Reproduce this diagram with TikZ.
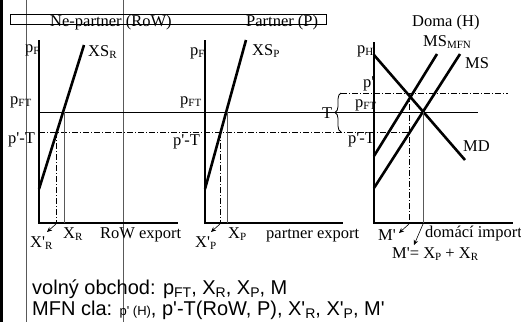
\documentclass[tikz,border=0pt]{standalone}
\usepackage{fontspec}
\setmainfont{Liberation Serif}
\newfontfamily\arialfont{Liberation Sans}
\usetikzlibrary{decorations.pathreplacing,arrows.meta}
\newcommand{\lsub}[1]{\raisebox{-2.5pt}{\fontsize{11}{11}\selectfont #1}}
\newcommand{\ssub}[1]{\raisebox{-3pt}{\fontsize{14}{14}\selectfont #1}}
\newcommand{\myq}{\textquotesingle}
\begin{document}
\begin{tikzpicture}[x=1pt,y=-1pt,
  axisline/.style={line width=2pt},
  curveline/.style={line width=2.6pt},
  thinline/.style={line width=0.8pt},
  greyline/.style={line width=0.9pt,black!65},
  ddline/.style={line width=0.8pt,dash pattern=on 6pt off 2pt on 1pt off 2pt},
  lbl/.style={anchor=base west,inner sep=0pt,font=\fontsize{16.5}{16.5}\selectfont},
  sans/.style={anchor=base west,inner sep=0pt,font=\arialfont\fontsize{20}{20}\selectfont},
  arr/.style={-{Stealth[length=5pt,width=4.5pt]},line width=0.6pt}]
\useasboundingbox (0,0) rectangle (521,322);
% frame lines
\draw[line width=3pt] (1.5,0) -- (1.5,322);
\draw[greyline] (26,0) -- (26,322);
\draw[greyline] (123,0) -- (123,322);
\draw[thinline] (10,14) rectangle (326,24);
\node[lbl] (tnp) at (50,26) {Ne-partner (RoW)};
\node[lbl] (tp) at (246,26) {Partner (P)};
% common price lines
\draw[thinline] (39,112) -- (478,112);
\draw[ddline] (39,132) -- (408,132);
\draw[ddline] (341,93) -- (508,93);
\draw[thinline,decorate,decoration={brace,amplitude=6pt}] (341,132) -- (341,93);
\node[lbl] (tT) at (322,118) {T};
% panel 1
\draw[axisline] (39,40) -- (39,223) -- (178,223);
\draw[curveline] (39,189) -- (84,45);
\draw[greyline] (64,112) -- (64,223);
\draw[ddline] (56,132) -- (56,223);
\coordinate (a1s) at (56,224);
\coordinate (a1e) at (47,232);
\draw[arr] (a1s) -- (a1e);
\node[lbl] (pf1) at (25,52) {p\lsub{F}};
\node[lbl] (xsr) at (88,56) {XS\lsub{R}};
\node[lbl] (pft1) at (10,104) {p\lsub{FT}};
\node[lbl] (pt1) at (8,143) {p\myq-T};
\node[lbl] (xr) at (63,238) {X\lsub{R}};
\node[lbl] (xrp) at (30,247) {X\myq\lsub{R}};
\node[lbl] (rowx) at (100,238) {RoW export};
% panel 2
\draw[axisline] (205,40) -- (205,223) -- (343,223);
\draw[curveline] (205,189) -- (246,40);
\draw[greyline] (227,112) -- (227,223);
\draw[ddline] (220,132) -- (220,223);
\coordinate (a2s) at (220,224);
\coordinate (a2e) at (211,232);
\draw[arr] (a2s) -- (a2e);
\node[lbl] (pf2) at (190,55) {p\lsub{F}};
\node[lbl] (xsp) at (252,55) {XS\lsub{P}};
\node[lbl] (pft2) at (180,104) {p\lsub{FT}};
\node[lbl] (pt2) at (173,145) {p\myq-T};
\node[lbl] (xp) at (228,238) {X\lsub{P}};
\node[lbl] (xpp) at (195,247) {X\myq\lsub{P}};
\node[lbl] (ptx) at (266,238) {partner export};
% panel 3
\draw[axisline] (374,42) -- (374,223) -- (513,223);
\draw[curveline] (374,55) -- (465,160);
\draw[curveline] (374,156) -- (437,54);
\draw[curveline] (374,188) -- (460,54);
\draw[greyline] (423,112) -- (423,223);
\draw[ddline] (409,93) -- (409,223);
\coordinate (a3s) at (409,224);
\coordinate (a3e) at (399,233);
\draw[arr] (a3s) -- (a3e);
\coordinate (a4s) at (423,224);
\coordinate (a4e) at (414,245);
\draw[arr] (a4s) -- (a4e);
\node[lbl] (doma) at (412,26) {Doma (H)};
\node[lbl] (msm) at (423,46) {MS\lsub{MFN}};
\node[lbl] (ms) at (465,68) {MS};
\node[lbl] (ph) at (357,53) {p\lsub{H}};
\node[lbl] (pp) at (363,87) {p\myq};
\node[lbl] (pft3) at (355,107) {p\lsub{FT}};
\node[lbl] (pt3) at (348,143) {p\myq-T};
\node[lbl] (md) at (463,151) {MD};
\node[lbl] (mp) at (378,240) {M\myq};
\node[lbl] (dimp) at (425,237) {domácí import};
\node[lbl] (msum) at (392,258) {M\myq= X\lsub{P} + X\lsub{R}};
% bottom text
\node[sans] (vo) at (32,294) {volný obchod: p\ssub{FT}, X\ssub{R}, X\ssub{P}, M};
\node[sans] (mfn) at (32,315) {MFN cla: {\fontsize{13}{13}\selectfont p\myq{} (H)}, p\myq-T(RoW, P), X\myq\ssub{R}, X\myq\ssub{P}, M\myq};
\end{tikzpicture}
\end{document}
